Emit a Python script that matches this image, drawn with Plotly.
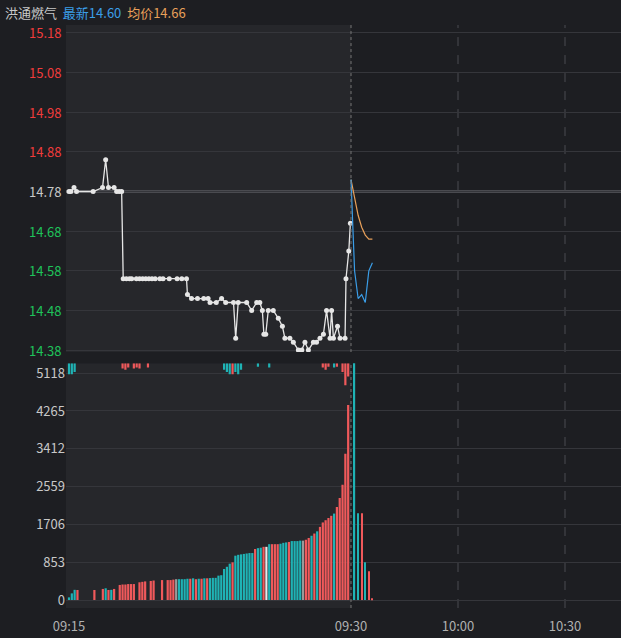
import plotly.graph_objects as go

# ---- data ----
auc_sec = [0,6,16,24,77,107,117,126,144,152,160,168,173,183,193,200,215,225,235,245,255,265,275,290,300,320,345,360,375,
           378,391,410,430,444,450,470,487,500,525,532,540,567,583,599,609,617,622,628,636,652,668,681,689,705,716,732,743,
           753,764,780,790,801,812,822,833,838,844,857,865,881,884,893,898]
auc_price = [14.78,14.78,14.79,14.78,14.78,14.79,14.86,14.79,14.79,14.78,14.78,14.78,14.56,14.56,14.56,14.56,14.56,14.56,14.56,
             14.56,14.56,14.56,14.56,14.56,14.56,14.56,14.56,14.56,14.56,
             14.52,14.51,14.51,14.51,14.51,14.50,14.50,14.51,14.50,14.50,14.41,14.50,14.50,14.48,14.50,14.50,14.48,14.42,14.42,
             14.48,14.48,14.46,14.44,14.41,14.41,14.40,14.38,14.38,14.40,14.38,14.40,14.40,14.41,14.42,14.48,14.41,14.48,14.41,
             14.44,14.41,14.41,14.56,14.63,14.70]
post_min = [0,1,2,3,4,5,6]
post_price = [14.81,14.58,14.51,14.52,14.50,14.58,14.60]
post_avg = [14.81,14.76,14.72,14.69,14.67,14.66,14.66]
prev_close = 14.78
price_ticks = [15.18,15.08,14.98,14.88,14.78,14.68,14.58,14.48,14.38]
vol_ticks = [0,853,1706,2559,3412,4265,5118]

auc_vol = [60,150,230,226,0,0,0,0,0,226,0,0,250,265,226,230,250,0,340,350,350,360,360,360,0,
           400,410,420,0,430,440,0,0,450,0,450,450,460,470,470,470,470,480,480,490,
           470,480,480,490,490,495,500,500,550,560,700,750,820,850,1000,1020,1030,1040,1050,1060,1060,
           1150,1170,1180,1200,1200,1260,1260,1260,1260,1270,1290,1300,1310,1330,1330,1330,1340,1340,1360,
           1400,1450,1500,1550,1650,1750,1800,1850,1900,1950,2100,2300,2600,3300,4400]
auc_col = ("ttt" "r" "ooooo" "r" "oo" "rtrtr" "o" "rrrrrrr" "o" "rrr" "o" "rr" "oo" "r" "o" "rrgtttt" "rtr"
           "trtrttt" "tt" "tttr" "ttttt" "ttr" "ttr" "wtrr" "rtttrtt" "ttgrr" "trtrrrrrtr" "rrrrr" "rrw")
auc_top = [250,250,200,0,0,0,0,0,0,0,0,0,0,0,0,0,0,0,0,120,150,100,0,120,100,120,0,0,100,0,0,0,0,0,0,0,0,0,0,0,0,0,0,0,0,
           0,0,0,0,0,0,0,0,0,0,150,200,250,250,200,250,150,0,0,0,0,0,80,0,0,0,100,0,0,0,0,0,0,0,0,0,0,0,0,0,
           0,0,0,0,0,100,150,80,0,100,80,0,200,500,300]
post_vol_min = [1,2,3,4,5,6]
post_vol = [6000,1960,1960,853,650,20]
post_vol_col = ["t","t","r","t","r","r"]
time_labels = ["09:15","09:30","10:00","10:30"]

# ---- scales ----
AUC_W = 282.0
POST_W = 107.0 / 30
def xa(sec): return sec / 900 * AUC_W
def xp(m): return AUC_W + m * POST_W

C = {"r": "#f0595b", "t": "#1fb3b5", "w": "#e8e8e8", "g": "#9a9a9a", "o": "#f0595b"}
BG = "#1d1e22"; AUC_BG = "#26272b"; GRID = "#35363b"
VTOP = 5344

fig = go.Figure()
bx = [xa(i * 9) for i in range(len(auc_vol))]
fig.add_bar(x=bx, y=auc_vol, marker_color=[C[c] for c in auc_col[:len(auc_vol)]], width=2.2,
            xaxis="x", yaxis="y2", marker_line_width=0)
fig.add_bar(x=bx, y=auc_top, base=[VTOP - v for v in auc_top],
            marker_color=[C[c] for c in auc_col[:len(auc_vol)]], width=2.2, xaxis="x", yaxis="y2", marker_line_width=0)
fig.add_bar(x=[xp(m) for m in post_vol_min], y=post_vol, marker_color=[C[c] for c in post_vol_col], width=1.2,
            xaxis="x", yaxis="y2", marker_line_width=0)
fig.add_scatter(x=[xa(s) for s in auc_sec], y=auc_price, mode="lines+markers", line=dict(color="#e6e6e6", width=1.3),
                marker=dict(color="#e6e6e6", size=5), xaxis="x", yaxis="y")
fig.add_scatter(x=[xp(m) for m in post_min], y=post_avg, mode="lines", line=dict(color="#e8a05a", width=1.2),
                xaxis="x", yaxis="y")
fig.add_scatter(x=[xp(m) for m in post_min], y=post_price, mode="lines", line=dict(color="#3b9ee8", width=1.2),
                xaxis="x", yaxis="y")

shapes = []
for ya, yr in (("y", (14.375, 15.2)), ("y2", (-180, VTOP))):
    shapes.append(dict(type="rect", xref="x", yref=ya, x0=-3, x1=AUC_W, y0=yr[0], y1=yr[1],
                       fillcolor=AUC_BG, line_width=0, layer="below"))
shapes.append(dict(type="line", xref="x", yref="y", x0=-3, x1=552, y0=prev_close, y1=prev_close,
                   line=dict(color="#4a4b50", width=3), layer="below"))
for ya, yr in (("y", (14.375, 15.2)), ("y2", (-180, VTOP))):
    shapes.append(dict(type="line", xref="x", yref=ya, x0=AUC_W, x1=AUC_W, y0=yr[0], y1=yr[1],
                       line=dict(color="#777", width=1, dash="dot")))
    for m in (30, 60):
        shapes.append(dict(type="line", xref="x", yref=ya, x0=xp(m), x1=xp(m), y0=yr[0], y1=yr[1],
                           line=dict(color="#4a4b50", width=1, dash="dash"), layer="below"))

annotations = []
for p in price_ticks:
    col = "#f03c3c" if p > prev_close + 1e-9 else ("#c8c8c8" if abs(p - prev_close) < 1e-9 else "#1fc25a")
    annotations.append(dict(xref="paper", yref="y", x=-0.006, y=p, text=f"{p:.2f}", showarrow=False,
                            xanchor="right", font=dict(color=col, size=13)))
annotations.append(dict(xref="paper", yref="paper", x=-0.114, y=1.0, yanchor="bottom", xanchor="left", showarrow=False,
                        text="<span style='color:#c8c8c8'>洪通燃气</span>  <span style='color:#3b9ee8'>最新14.60</span>  "
                             "<span style='color:#e8a05a'>均价14.66</span>",
                        font=dict(size=13), yshift=1))

fig.update_layout(
    width=621, height=638, margin=dict(l=66, r=0, t=25, b=30), paper_bgcolor=BG, plot_bgcolor=BG,
    showlegend=False, barmode="overlay", shapes=shapes, annotations=annotations,
    font=dict(family="Noto Sans CJK SC", color="#c8c8c8", size=13),
    xaxis=dict(range=[-3, 552], anchor="y2", tickvals=[0, AUC_W, xp(30), xp(60)], ticktext=time_labels,
               showgrid=False, zeroline=False, tickfont=dict(color="#b0b0b0"), ticklabelstandoff=9),
    yaxis=dict(domain=[0.439, 1.0], range=[14.375, 15.2], tickvals=price_ticks, showticklabels=False,
               gridcolor=GRID, zeroline=False),
    yaxis2=dict(domain=[0, 0.420], range=[-180, VTOP], tickvals=vol_ticks, gridcolor=GRID, zeroline=False,
                tickfont=dict(color="#c8c8c8")),
)
fig.write_html("out.html", config={"displayModeBar": False},
               post_script="document.body.style.margin='0';document.body.style.background='#1d1e22';")
